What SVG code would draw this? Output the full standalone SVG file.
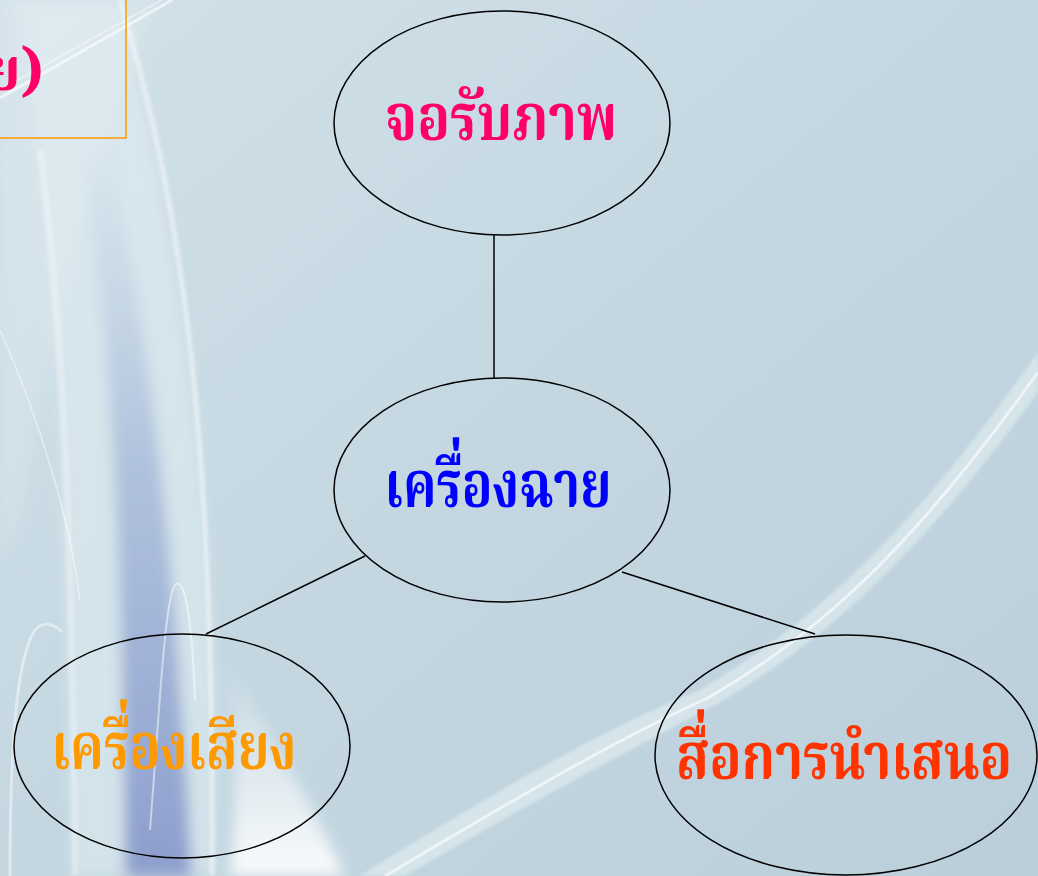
<svg xmlns="http://www.w3.org/2000/svg" width="1038" height="876" viewBox="0 0 1038 876">
<defs>
<linearGradient id="bg" x1="0" y1="0" x2="1" y2="1">
<stop offset="0" stop-color="#D2E1E9"/>
<stop offset="0.5" stop-color="#C4D7E1"/>
<stop offset="1" stop-color="#BBCFDB"/>
</linearGradient>
<linearGradient id="purp" x1="0" y1="0" x2="0" y2="1">
<stop offset="0" stop-color="#A4B8D8" stop-opacity="0"/>
<stop offset="0.45" stop-color="#95AAD3" stop-opacity="0.6"/>
<stop offset="1" stop-color="#8596CA" stop-opacity="0.9"/>
</linearGradient>
<linearGradient id="whitefade" x1="0" y1="0" x2="0" y2="1">
<stop offset="0" stop-color="#FFFFFF" stop-opacity="0"/>
<stop offset="1" stop-color="#FFFFFF" stop-opacity="0.9"/>
</linearGradient>
<filter id="soft" x="-20%" y="-20%" width="140%" height="140%"><feGaussianBlur stdDeviation="7"/></filter>
<filter id="soft2" x="-20%" y="-20%" width="140%" height="140%"><feGaussianBlur stdDeviation="1.5"/></filter>
<style>
.node{fill:none;stroke:#000;stroke-width:1.5}
.lbl{font-family:"Noto Serif Thai","Noto Sans Thai",serif;font-weight:bold;text-anchor:middle}
.conn line{stroke:#000;stroke-width:1.5}
.streak{fill:none;stroke:#FFFFFF}
</style>
</defs>
<g id="background">
<rect width="1038" height="876" fill="url(#bg)"/>
<g filter="url(#soft)">
<path d="M0 0 L160 0 C100 120 60 300 20 520 L0 560 Z" fill="#FFFFFF" fill-opacity="0.15"/>
<path d="M15 0 C45 150 68 400 72 876 L215 876 C220 560 190 300 120 0 Z" fill="#E4EFF4" fill-opacity="0.5"/>
<path d="M105 140 C140 280 170 460 192 876 L125 876 C122 520 110 320 80 160 Z" fill="url(#purp)"/>
<path d="M225 655 C270 740 310 800 345 876 L230 876 C238 800 236 720 225 655 Z" fill="url(#whitefade)"/>
</g>
<g filter="url(#soft2)">
<path d="M120 0 C180 200 215 420 212 876" class="streak" stroke-opacity="0.45" stroke-width="5"/>
<path d="M40 150 C60 300 72 500 75 876" class="streak" stroke-opacity="0.3" stroke-width="7"/>
<path d="M360 876 C480 800 600 730 700 690 C800 630 900 550 1038 352 L1038 392 C910 570 810 650 715 705 C610 760 500 820 405 876 Z" fill="#E3F0F2" fill-opacity="0.6"/>
</g>
<path d="M0 330 C40 420 70 520 80 600" class="streak" stroke-opacity="0.45" stroke-width="1.5"/>
<path d="M172 0 L0 98" class="streak" stroke-opacity="0.6" stroke-width="3"/>
<path d="M162 0 L0 90" class="streak" stroke-opacity="0.4" stroke-width="2"/>
<path d="M150 830 C160 700 165 600 175 585 C185 575 192 620 195 700" class="streak" stroke-opacity="0.5" stroke-width="2"/>
<path d="M10 876 C10 760 15 660 35 630 C45 620 55 625 62 632" class="streak" stroke-opacity="0.45" stroke-width="3"/>
<path d="M385 876 C500 808 610 742 708 698 C808 640 905 560 1038 372" class="streak" stroke-opacity="0.6" stroke-width="3"/>
</g>
<g id="title-box">
<rect x="-20" y="-20" width="146" height="158" fill="none" stroke="#FF9900" stroke-width="1.5"/>
<text x="44" y="90" class="lbl" style="text-anchor:end" font-size="58" fill="#FF0066">ย)</text>
</g>
<g class="conn" id="connectors">
<line x1="494" y1="235" x2="494" y2="378"/>
<line x1="365" y1="556" x2="206" y2="634"/>
<line x1="622" y1="572" x2="815" y2="634"/>
</g>
<g id="node-screen">
<ellipse class="node" cx="502" cy="123" rx="168" ry="112"/>
<text x="501" y="140" class="lbl" font-size="66" fill="#FF0066" textLength="232" lengthAdjust="spacingAndGlyphs">จอรับภาพ</text>
</g>
<g id="node-projector">
<ellipse class="node" cx="502" cy="490" rx="168" ry="112"/>
<text x="498" y="507" class="lbl" font-size="66" fill="#0000FF" textLength="227" lengthAdjust="spacingAndGlyphs">เครื่องฉาย</text>
</g>
<g id="node-sound">
<ellipse class="node" cx="182" cy="746" rx="168" ry="112"/>
<text x="174" y="769" class="lbl" font-size="66" fill="#FF9900" textLength="245" lengthAdjust="spacingAndGlyphs">เครื่องเสียง</text>
</g>
<g id="node-media">
<ellipse class="node" cx="846" cy="755" rx="191" ry="120"/>
<text x="844" y="779" class="lbl" font-size="66" fill="#FF3300" textLength="336" lengthAdjust="spacingAndGlyphs">สื่อการนำเสนอ</text>
</g>
</svg>
